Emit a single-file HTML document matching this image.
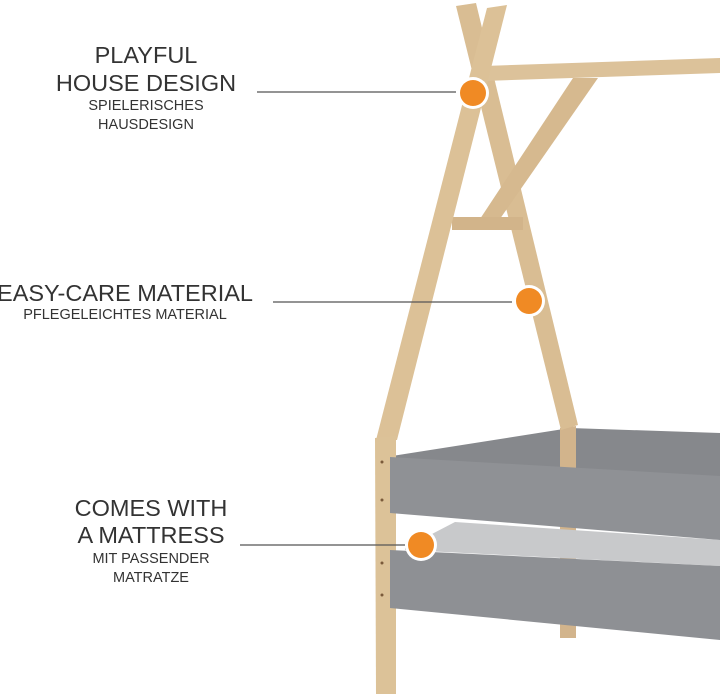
<!DOCTYPE html>
<html><head><meta charset="utf-8"><style>
html,body{margin:0;padding:0;background:#fff;}
svg{display:block;}
text{font-family:"Liberation Sans",sans-serif;fill:#333;}
</style></head><body>
<svg width="720" height="696" viewBox="0 0 720 696" xmlns="http://www.w3.org/2000/svg">
<polygon points="392,456 570,428 720,433 720,478 392,460" fill="#86888c"/>
<polygon points="560,428 576,426 576,638 560,638" fill="#d2b48c"/>
<polygon points="456,6 476,3 578,425 561,430" fill="#d9bd93"/>
<polygon points="484,66 720,58 720,73 484,81" fill="#dcc29a"/>
<polygon points="573,78 598,78 495,226 478,222" fill="#d6b98f"/>
<polygon points="452,217 523,217 523,230 452,230" fill="#d2b48a"/>
<polygon points="487,8 507,5 397,440 376,440" fill="#dcc197"/>
<polygon points="375,438 396,436 396,694 376,694" fill="#dcc298"/>
<circle cx="382" cy="462" r="1.5" fill="#7a5a3a"/><circle cx="382" cy="500" r="1.5" fill="#7a5a3a"/>
<circle cx="382" cy="563" r="1.5" fill="#7a5a3a"/><circle cx="382" cy="595" r="1.5" fill="#7a5a3a"/>
<polygon points="405,548 455,522 720,540 720,566 405,550" fill="#c8c9cb"/>
<polygon points="390,457 720,476 720,540 390,513" fill="#8f9195"/>
<polygon points="390,550 720,566 720,640 390,608" fill="#8e9094"/>
<line x1="257" y1="92" x2="456" y2="92" stroke="#555" stroke-width="1.2"/>
<line x1="273" y1="302" x2="512" y2="302" stroke="#555" stroke-width="1.2"/>
<line x1="240" y1="545" x2="405" y2="545" stroke="#555" stroke-width="1.2"/>
<circle cx="473" cy="93" r="16" fill="#fff"/><circle cx="473" cy="93" r="13" fill="#f08a24"/>
<circle cx="529" cy="301" r="16" fill="#fff"/><circle cx="529" cy="301" r="13" fill="#f08a24"/>
<circle cx="421" cy="545" r="16" fill="#fff"/><circle cx="421" cy="545" r="13" fill="#f08a24"/>
<g text-anchor="middle">
<text x="146" y="63" font-size="23.5">PLAYFUL</text>
<text x="146" y="91" font-size="23.5">HOUSE DESIGN</text>
<text x="146" y="110" font-size="14.5">SPIELERISCHES</text>
<text x="146" y="129" font-size="14.5">HAUSDESIGN</text>
<text x="125" y="301" font-size="23.5">EASY-CARE MATERIAL</text>
<text x="125" y="319" font-size="14.5">PFLEGELEICHTES MATERIAL</text>
<text x="151" y="516" font-size="23.5">COMES WITH</text>
<text x="151" y="543" font-size="23.5">A MATTRESS</text>
<text x="151" y="563" font-size="14.5">MIT PASSENDER</text>
<text x="151" y="582" font-size="14.5">MATRATZE</text>
</g>
</svg>
</body></html>
